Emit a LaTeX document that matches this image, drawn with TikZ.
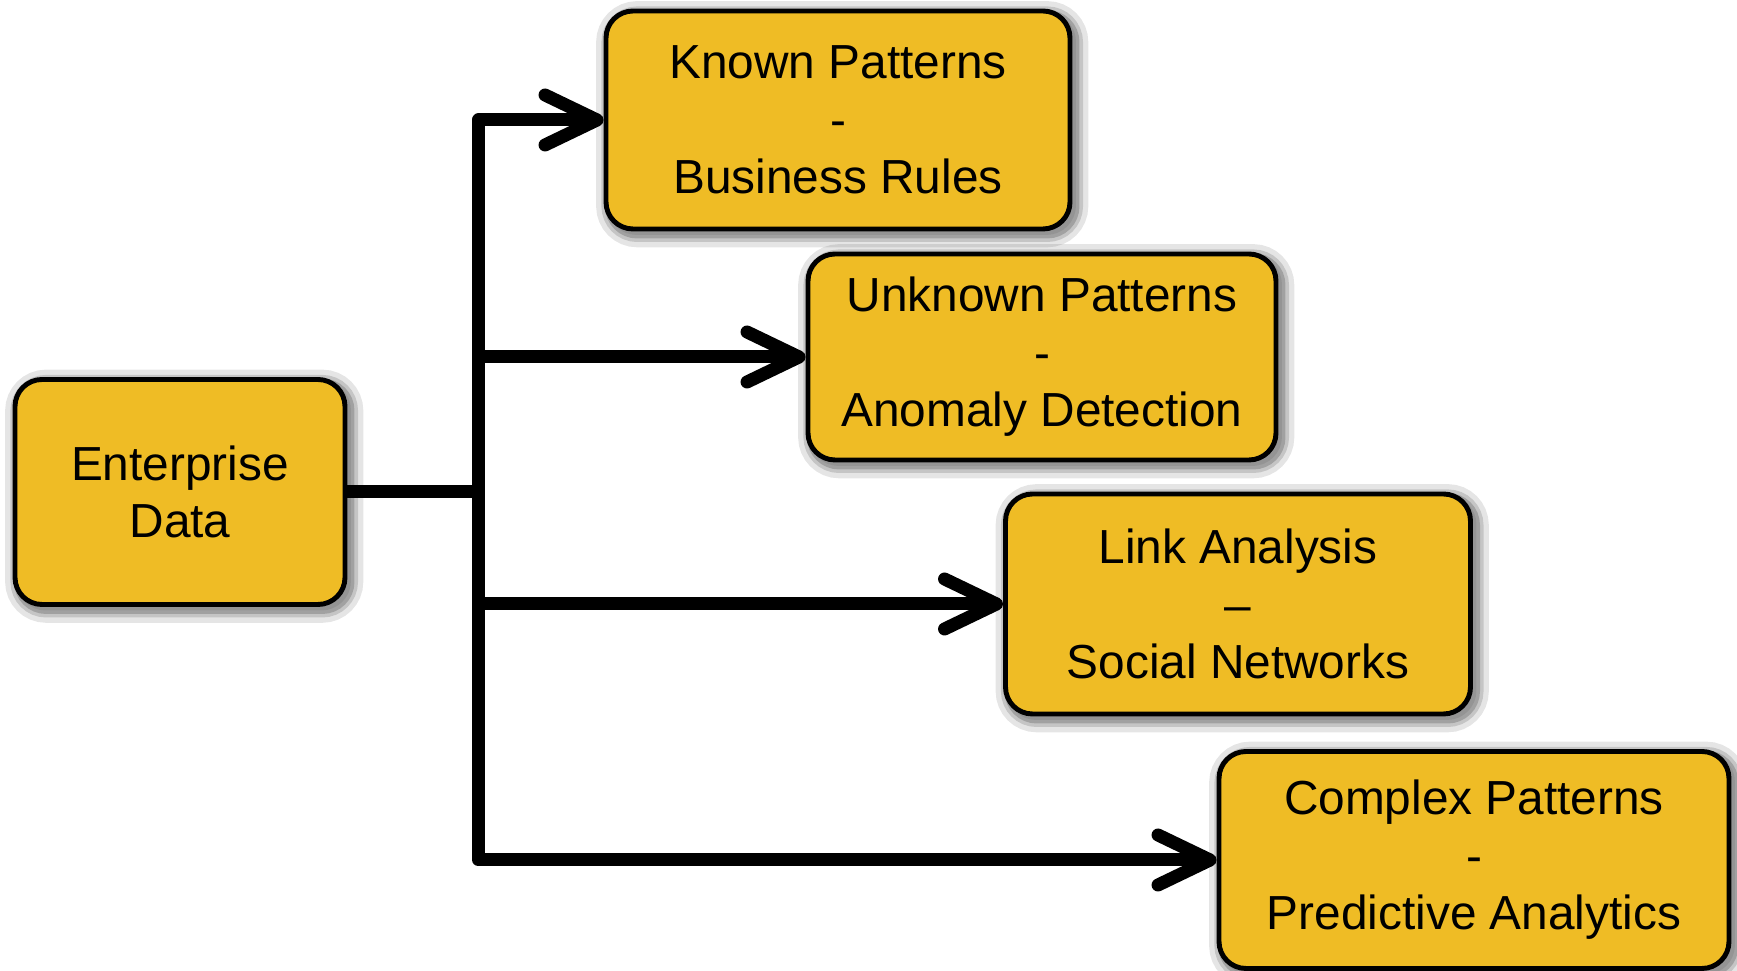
\documentclass[tikz,border=0pt]{standalone}
\usepackage{fontspec}
\setmainfont{Liberation Sans}
\usepackage{xcolor}
\usetikzlibrary{arrows.meta}

\definecolor{boxgold}{RGB}{239,188,37}

\begin{document}
\begin{tikzpicture}[font=\fontsize{13.6}{16.4}\selectfont,
  softshadow/.style={preaction={draw=black, draw opacity=#1,
    transform canvas={xshift=1pt, yshift=-1pt}}},
  patternbox/.style={draw=black, line width=1.4pt, fill=boxgold,
    rounded corners=0.27cm, align=center, inner sep=0pt,
    softshadow=0.08, preaction={draw=black, draw opacity=0.10, line width=8pt,
      transform canvas={xshift=1.2pt, yshift=-1.2pt}},
    preaction={draw=black, draw opacity=0.14, line width=5pt,
      transform canvas={xshift=1.2pt, yshift=-1.2pt}},
    preaction={draw=black, draw opacity=0.18, line width=3pt,
      transform canvas={xshift=1.2pt, yshift=-1.2pt}}},
  flowline/.style={line width=3.7pt, line join=round,
    -{Straight Barb[length=0.52cm, width=0.5cm, round]}}]

%---------------- size parameters ----------------%
\def\boxH{2.18}   % height of the pattern boxes
\def\trunkDx{1.31} % distance from the source box to the vertical trunk

\useasboundingbox (0,0) rectangle (17.37,-9.71);

%---------------- source ----------------%
\node[patternbox, minimum width=3.30cm, minimum height=2.25cm] (ent)
  at (1.80,-4.92) {Enterprise\\Data};

%---------------- pattern boxes ----------------%
\node[patternbox, minimum width=4.64cm, minimum height=\boxH cm] (known)
  at (8.38,-1.20) {Known Patterns\\-\\Business Rules};
\node[patternbox, minimum width=4.68cm, minimum height=2.06cm] (unknown)
  at (10.42,-3.57) {Unknown Patterns\\-\\Anomaly Detection};
\node[patternbox, minimum width=4.65cm, minimum height=2.20cm] (link)
  at (12.38,-6.04) {Link Analysis\\–\\Social Networks};
\node[patternbox, minimum width=5.10cm, minimum height=2.17cm] (complex)
  at (14.74,-8.60) {Complex Patterns\\-\\Predictive Analytics};

%---------------- connectors ----------------%
\coordinate (trunk) at ([xshift=\trunkDx cm]ent.east);
\foreach \n in {known,unknown,link,complex} {
  \draw[flowline] (ent.east) -- (trunk) |- (\n.west);
}

\end{tikzpicture}
\end{document}
